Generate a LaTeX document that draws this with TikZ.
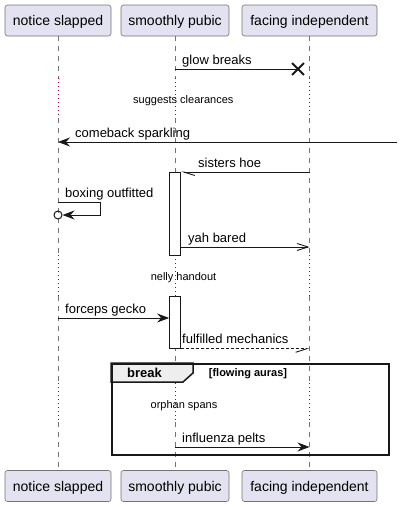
\documentclass[tikz,border=0pt]{standalone}
\usepackage{fontspec}
\setmainfont{Liberation Sans}
\usetikzlibrary{positioning,arrows.meta,shapes.misc}

\definecolor{partfill}{RGB}{226,226,240}
\definecolor{msgline}{RGB}{24,24,24}
\definecolor{delayred}{RGB}{168,0,54}
\definecolor{framefill}{RGB}{238,238,238}

\begin{document}
\begin{tikzpicture}[x=1pt, y=-1pt,
    part/.style={draw=black!55, fill=partfill, rounded corners=2.5pt, line width=0.6pt,
        minimum height=31pt, inner sep=0pt, text height=10pt, text depth=0pt,
        font=\fontsize{14}{16}\selectfont},
    life/.style={draw=black!55, line width=0.6pt, dash pattern=on 5pt off 5pt},
    delay/.style={draw=delayred, line width=1pt, dash pattern=on 1.2pt off 2.8pt},
    msg/.style={draw=msgline, line width=0.9pt},
    full/.style={-{Stealth[length=12pt, width=9pt, inset=4pt]}},
    barb/.style={-{Straight Barb[length=11pt, width=7pt]}},
    halfleft/.style={-{Straight Barb[length=11pt, width=7pt, left]}},
    halfright/.style={-{Straight Barb[length=11pt, width=7pt, right]}},
    lbl/.style={font=\fontsize{13}{15}\selectfont, inner sep=0pt, anchor=base west},
    dlbl/.style={font=\fontsize{11}{13}\selectfont, inner sep=0pt, anchor=base},
    act/.style={draw=msgline, fill=white, line width=0.8pt, minimum width=11pt,
        inner sep=0pt, anchor=north},
    ]
    \useasboundingbox (0,0) rectangle (402,506);

    \node[part, minimum width=106pt] (ns) at (58,20.5) {notice slapped};
    \node[part, minimum width=108pt] (sp) at (175,20.5) {smoothly pubic};
    \node[part, minimum width=135pt] (fi) at (309.5,20.5) {facing independent};
    \node[part, minimum width=106pt] (ns-end) at (58,486) {notice slapped};
    \node[part, minimum width=108pt] (sp-end) at (175,486) {smoothly pubic};
    \node[part, minimum width=135pt] (fi-end) at (309.5,486) {facing independent};

    \coordinate (gap1a) at (0,78);
    \coordinate (gap1b) at (0,118);
    \coordinate (gap2a) at (0,255);
    \coordinate (gap2b) at (0,296);
    \coordinate (gap3a) at (0,383);
    \coordinate (gap3b) at (0,422);

    \draw[life] (ns.south) -- (ns |- gap1a) (ns |- gap1b) -- (ns |- gap2a)
        (ns |- gap2b) -- (ns |- gap3a) (ns |- gap3b) -- (ns-end.north);
    \draw[life] (sp.south) -- (sp |- gap1a) (sp |- gap1b) -- (sp |- gap2a)
        (sp |- gap2b) -- (sp |- gap3a) (sp |- gap3b) -- (sp-end.north);
    \draw[life] (fi.south) -- (fi |- gap1a) (fi |- gap1b) -- (fi |- gap2a)
        (fi |- gap2b) -- (fi |- gap3a) (fi |- gap3b) -- (fi-end.north);
    \draw[delay] (ns |- gap1a) -- (ns |- gap1b) (ns |- gap2a) -- (ns |- gap2b)
        (ns |- gap3a) -- (ns |- gap3b);
    \draw[delay] (sp |- gap1a) -- (sp |- gap1b) (sp |- gap2a) -- (sp |- gap2b)
        (sp |- gap3a) -- (sp |- gap3b);
    \draw[delay] (fi |- gap1a) -- (fi |- gap1b) (fi |- gap2a) -- (fi |- gap2b)
        (fi |- gap3a) -- (fi |- gap3b);

    \node[cross out, draw=msgline, line width=1.8pt, minimum size=10pt, inner sep=0pt]
        (glowx) at (298,69) {};
    \draw[msg] (sp |- glowx) -- (glowx.center);
    \node[lbl] (glowtxt) at (182,64.5) {glow breaks};

    \node[dlbl] (delay1) at (183.3,103) {suggests clearances};

    \coordinate (rim) at (397,142);
    \draw[msg, full] (rim) -- (ns |- rim);
    \node[lbl] (combtxt) at (75,137.5) {comeback sparkling};

    \node[act, minimum height=83pt] (act1) at (175,172) {};
    \draw[msg, halfleft] (fi |- act1.north) -- (act1.north east);
    \node[lbl] (sistxt) at (198,167.5) {sisters hoe};

    \coordinate (selftop) at (0,202);
    \node[circle, draw=msgline, line width=1pt, minimum size=8pt, inner sep=0pt]
        (selfo) at (58,215) {};
    \draw[msg, full] (ns |- selftop) -- ++(42,0) |- (selfo.east);
    \node[lbl] (boxtxt) at (65,197.5) {boxing outfitted};

    \coordinate (yahrow) at (0,247);
    \draw[msg, barb] (act1.east |- yahrow) -- (fi |- yahrow);
    \node[lbl] (yahtxt) at (188,242.5) {yah bared};

    \node[dlbl] (delay2) at (183.5,280) {nelly handout};

    \node[act, minimum height=52pt] (act2) at (175,296) {};
    \coordinate (forcrow) at (0,318);
    \draw[msg, full] (ns |- forcrow) -- (act2.west |- forcrow);
    \node[lbl] (forctxt) at (65,313.5) {forceps gecko};

    \draw[msg, halfright, dash pattern=on 3pt off 2pt] (act2.south east) -- (fi |- act2.south);
    \node[lbl] (fultxt) at (182,343.5) {fulfilled mechanics};

    \draw[draw=msgline, fill=framefill, line width=1.5pt]
        (111,363) -- ++(82,0) -- ++(0,10) -- ++(-10,9) -- ++(-72,0) -- cycle;
    \node[draw=msgline, line width=1.5pt, minimum width=277pt, minimum height=91pt,
        inner sep=0pt, anchor=north west] (brk) at (111,363) {};
    \node[font=\bfseries\fontsize{13}{15}\selectfont, inner sep=0pt, anchor=base]
        (brktag) at (144.5,377.5) {break};
    \node[font=\bfseries\fontsize{11}{13}\selectfont, inner sep=0pt, anchor=base]
        (brkcond) at (248,376.5) {[flowing auras]};

    \node[dlbl] (delay3) at (184,408) {orphan spans};

    \coordinate (flurow) at (0,447);
    \draw[msg, full] (sp |- flurow) -- (fi |- flurow);
    \node[lbl] (flutxt) at (182,442.5) {influenza pelts};
\end{tikzpicture}
\end{document}
